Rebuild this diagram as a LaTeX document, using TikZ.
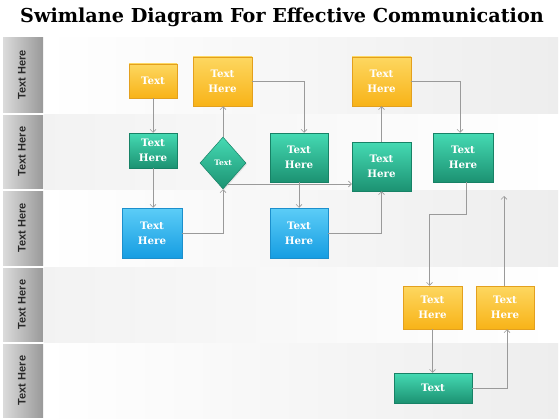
\documentclass[tikz,border=0pt]{standalone}
\usepackage{fontspec}
\setmainfont{DejaVu Serif}
\newfontfamily\lanefont{Liberation Sans}
\usetikzlibrary{shapes.geometric,arrows.meta,calc,shadows}
\definecolor{ytop}{HTML}{FDD760}
\definecolor{ybot}{HTML}{F8B318}
\definecolor{yedge}{HTML}{E3A01E}
\definecolor{gtop}{HTML}{45DAB3}
\definecolor{gbot}{HTML}{1C9272}
\definecolor{gedge}{HTML}{178266}
\definecolor{btop}{HTML}{5CCDF7}
\definecolor{bbot}{HTML}{169DE2}
\definecolor{bedge}{HTML}{1C8FCC}
\definecolor{lnk}{HTML}{9A9A9A}
\definecolor{lanetxt}{HTML}{2A2A2A}
\begin{document}
\begin{tikzpicture}[x=1pt,y=-1pt,
  boxbase/.style={inner sep=0pt, align=center, text=white,
     font=\bfseries\fontsize{10.3}{15}\selectfont, line width=0.5pt,
     drop shadow={opacity=0.18, shadow xshift=1pt, shadow yshift=-1.2pt}},
  ybox/.style={boxbase, draw=yedge, top color=ytop, bottom color=ybot},
  gbox/.style={boxbase, draw=gedge, top color=gtop, bottom color=gbot},
  bbox/.style={boxbase, draw=bedge, top color=btop, bottom color=bbot},
  lanelab/.style={rotate=90, text=lanetxt, font=\lanefont\bfseries\fontsize{11}{12}\selectfont},
  laneodd/.style={left color=white, right color=black!7},
  laneeven/.style={left color=black!5, right color=white},
  labbox/.style={left color=black!14, right color=black!40},
  conn/.style={draw=lnk, line width=0.6pt, -{Straight Barb[length=3pt,width=6pt]}}
]
\useasboundingbox (0,0) rectangle (560,420);
\fill[white] (0,0) rectangle (560,420);
% title
\node[font=\bfseries\fontsize{19.2}{22}\selectfont, text=black] (title) at (282,17) {Swimlane Diagram For Effective Communication};
% lanes
\fill[laneodd]  (44,38) rectangle (558,113);
\fill[laneeven] (44,114) rectangle (558,189);
\fill[laneodd]  (44,190) rectangle (558,266);
\fill[laneeven] (44,267) rectangle (558,342);
\fill[laneodd]  (44,343) rectangle (558,418);
\fill[labbox] (3,38) rectangle (43,112);
\fill[labbox] (3,115) rectangle (43,188);
\fill[labbox] (3,191) rectangle (43,265);
\fill[labbox] (3,268) rectangle (43,341);
\fill[labbox] (3,344) rectangle (43,417);
\node[lanelab] (l1) at (22,75) {Text Here};
\node[lanelab] (l2) at (22,151.5) {Text Here};
\node[lanelab] (l3) at (22,228) {Text Here};
\node[lanelab] (l4) at (22,304.5) {Text Here};
\node[lanelab] (l5) at (22,380.5) {Text Here};
% nodes
\node[ybox, minimum width=48, minimum height=34] (A) at (153,81) {Text};
\node[ybox, minimum width=59, minimum height=49] (B) at (222.5,81.5) {Text\\Here};
\node[gbox, minimum width=48, minimum height=35] (C) at (153,150.5) {Text\\Here};
\node[gbox, diamond, minimum width=46, minimum height=52, font=\bfseries\fontsize{7.5}{8}\selectfont] (D) at (223,163) {Text};
\node[gbox, minimum width=58, minimum height=49] (E) at (299,157.5) {Text\\Here};
\node[ybox, minimum width=59, minimum height=49] (F) at (381.5,81.5) {Text\\Here};
\node[gbox, minimum width=59, minimum height=49] (G) at (381.5,166.5) {Text\\Here};
\node[gbox, minimum width=60, minimum height=49] (H) at (463,157.5) {Text\\Here};
\node[bbox, minimum width=60, minimum height=50] (I) at (152,233) {Text\\Here};
\node[bbox, minimum width=58, minimum height=50] (J) at (299,233) {Text\\Here};
\node[ybox, minimum width=59, minimum height=43] (K) at (432.5,307.5) {Text\\Here};
\node[ybox, minimum width=58, minimum height=43] (L) at (505,307.5) {Text\\Here};
\node[gbox, minimum width=78, minimum height=30] (M) at (433,388) {Text};
\coordinate (Lend) at (504,196);
% connectors
\draw[conn] (A.south) -- (A.south |- C.north);
\draw[conn] (C.south) -- (C.south |- I.north);
\draw[conn] (I.east) -| (D.south);
\draw[conn] (D.north) -- (D.north |- B.south);
\draw[conn] (B.east) -| ([xshift=5]E.north);
\draw[conn] ($(D.south)!0.2!(D.east)$) coordinate (dse) -- (dse -| G.west);
\draw[conn] (E.south) -- (E.south |- J.north);
\draw[conn] (J.east) -| (G.south);
\draw[conn] (G.north) -- (G.north |- F.south);
\draw[conn] (F.east) -| ([xshift=-3]H.north);
\draw[conn] ([xshift=3]H.south) -- ++(0,32) -| ([xshift=-3]K.north);
\draw[conn] (K.south) -- (K.south |- M.north);
\draw[conn] (M.east) -| ([xshift=2]L.south);
\draw[conn] ([xshift=-1]L.north) -- (Lend);
\end{tikzpicture}
\end{document}
